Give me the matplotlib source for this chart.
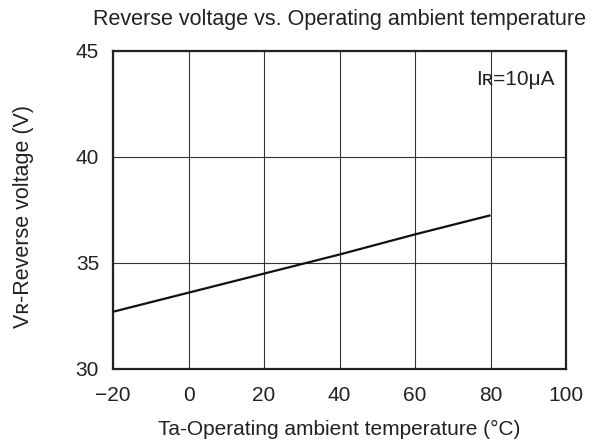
import matplotlib
matplotlib.use('Agg')
import matplotlib.pyplot as plt

plt.rcParams['font.family'] = ['Liberation Sans', 'DejaVu Sans']

# data
temps = [-20, 0, 20, 40, 60, 80]
vr = [32.7, 33.6, 34.5, 35.4, 36.35, 37.25]

xticks = [-20, 0, 20, 40, 60, 80, 100]
xticklabels = ['\u221220', '0', '20', '40', '60', '80', '100']
yticks = [30, 35, 40, 45]

txt = '#222222'

fig = plt.figure(figsize=(6, 4.45), dpi=100)
ax = fig.add_axes([113/600, 1 - 369/445, 453/600, 318/445])

ax.plot(temps, vr, color='#111111', linewidth=1.6, solid_capstyle='butt')

ax.set_xlim(-20, 100)
ax.set_ylim(30, 45)
ax.set_xticks(xticks)
ax.set_xticklabels(xticklabels)
ax.set_yticks(yticks)
ax.grid(True, color='#333333', linewidth=0.8)
ax.tick_params(length=0, labelsize=15, labelcolor=txt)
ax.tick_params(axis='x', pad=12)
ax.tick_params(axis='y', pad=10)
for s in ax.spines.values():
    s.set_linewidth(1.6)
    s.set_color('#222222')

ax.set_xlabel('Ta-Operating ambient temperature (\u00b0C)', fontsize=15, color=txt)
ax.xaxis.set_label_coords(0.5, -0.16)
ax.set_ylabel('V\u0280-Reverse voltage (V)', fontsize=15.5, color=txt)
ax.yaxis.set_label_coords(-0.175, 0.48)
ax.set_title('Reverse voltage vs. Operating ambient temperature', fontsize=15.5, color=txt, pad=19)

ax.text(0.975, 0.91, 'I\u0280=10\u03bcA', transform=ax.transAxes, ha='right', va='center',
        fontsize=15, color=txt)

fig.savefig('out.png', dpi=100)
